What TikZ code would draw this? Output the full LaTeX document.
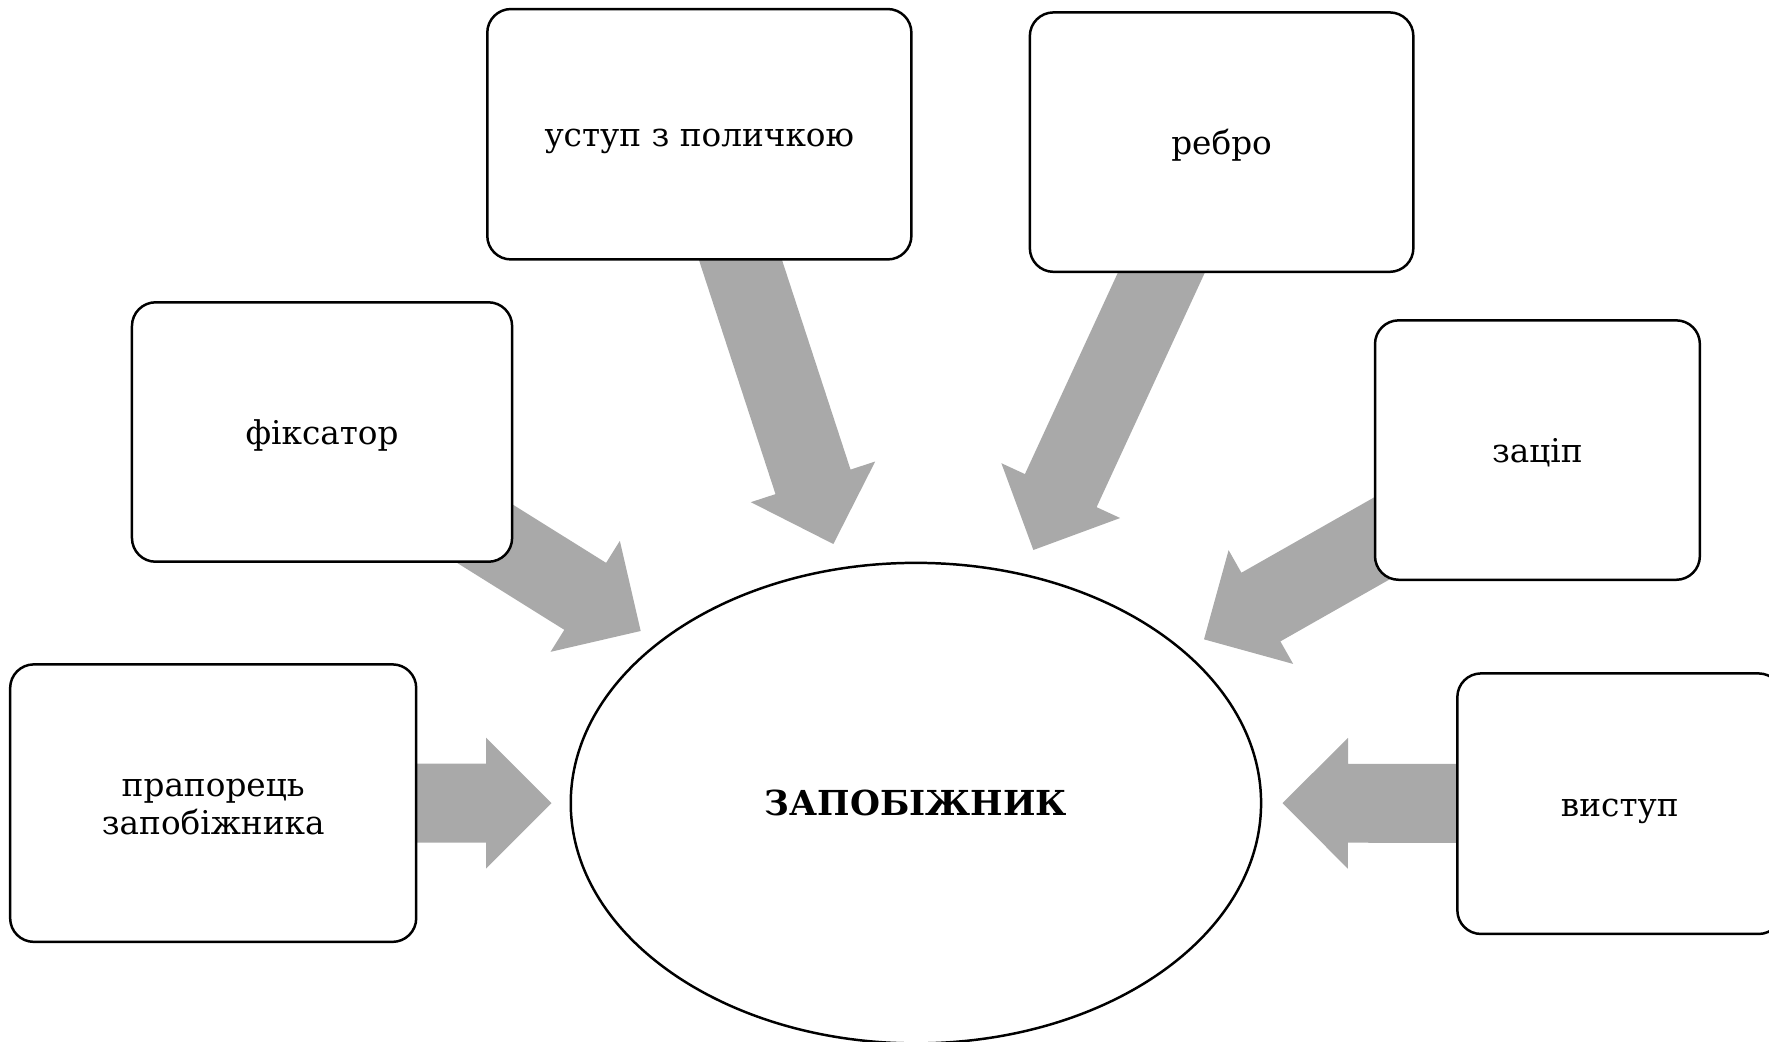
\documentclass[tikz,border=0pt]{standalone}
\usepackage{fontspec}
\setmainfont{DejaVu Serif}
\usetikzlibrary{calc,shapes.geometric}
\pgfdeclarelayer{bg}
\pgfsetlayers{bg,main}
\definecolor{arrowgray}{RGB}{169,169,169}
\tikzset{
  box/.style={draw=black, line width=2.2pt, rounded corners=21pt, fill=white,
    align=center, inner sep=0pt, font=\fontsize{29}{34}\selectfont,
    text height=22pt, text depth=0pt},
  boxtext/.style={align=center, inner sep=0pt, font=\fontsize{29}{34}\selectfont},
  hub/.style={draw=black, line width=2.2pt, ellipse, fill=white, inner sep=0pt,
    minimum width=612pt, minimum height=426pt, font=\fontsize{30.5}{36}\selectfont\bfseries},
  arrowfill/.style={fill=arrowgray, draw=none}
}
\newcommand\blockarrow[3]{%
  \path ($(#2)!58pt!(#1.center)$) coordinate (hb#3);
  \fill[arrowfill] ($(#1.center)!35pt!90:(#2)$) -- ($(hb#3)!35pt!90:(#2)$)
    -- ($(hb#3)!58pt!90:(#2)$) -- (#2) -- ($(hb#3)!58pt!-90:(#2)$)
    -- ($(hb#3)!35pt!-90:(#2)$) -- ($(#1.center)!35pt!-90:(#2)$) -- cycle;}
\begin{document}
\begin{tikzpicture}[x=1pt,y=-1pt]
\useasboundingbox (0,0) rectangle (1568.3,923.7);
\node[hub] (hub) at (812,712) {ЗАПОБІЖНИК};
\node[box, minimum width=376pt, minimum height=222pt] (ust) at (620,119) {уступ з поличкою};
\node[box, minimum width=340pt, minimum height=230pt] (rebro) at (1083,126) {ребро};
\node[box, minimum width=337pt, minimum height=230pt] (fiks) at (285.5,383) {фіксатор};
\node[box, minimum width=288pt, minimum height=230pt] (zats) at (1363,399) {заціп};
\node[box, minimum width=360pt, minimum height=246pt] (prap) at (189,712) {};
\node[boxtext] (praptext) at ([yshift=-3.5pt]prap.center) {прапорець\\запобіжника};
\node[box, minimum width=288pt, minimum height=231pt] (vyst) at (1436,712.5) {виступ};
\coordinate (tfiks) at (568,559.4);
\coordinate (tust) at (738.8,482.3);
\coordinate (trebro) at (916.1,487.6);
\coordinate (tzats) at (1067.4,566.8);
\coordinate (tprap) at (489,712);
\coordinate (tvyst) at (1137,712);
\begin{pgfonlayer}{bg}
\blockarrow{fiks}{tfiks}{a}
\blockarrow{ust}{tust}{b}
\blockarrow{rebro}{trebro}{c}
\blockarrow{zats}{tzats}{d}
\blockarrow{prap}{tprap}{e}
\blockarrow{vyst}{tvyst}{f}
\end{pgfonlayer}
\end{tikzpicture}
\end{document}
